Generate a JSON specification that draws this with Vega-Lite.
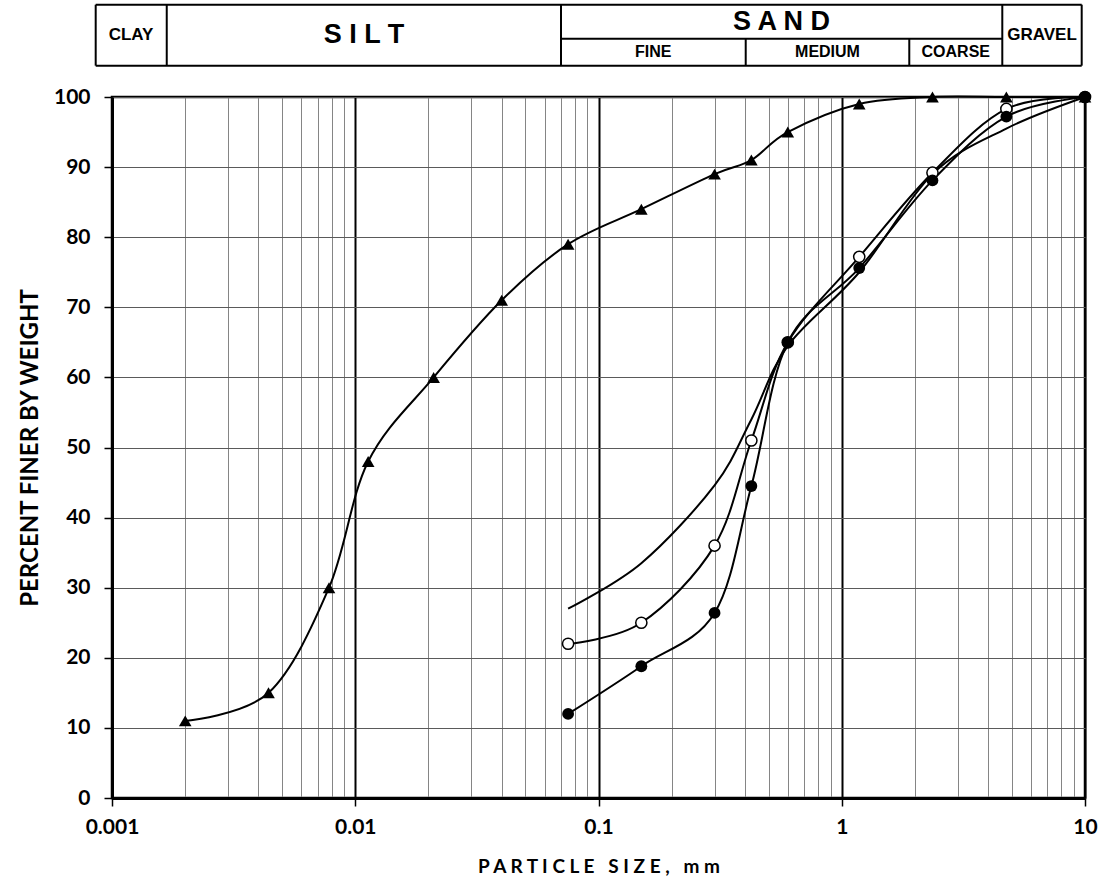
{
  "$schema": "https://vega.github.io/schema/vega-lite/v6.json",
  "width": 973,
  "height": 701,
  "autosize": {"type": "none"},
  "padding": {"left": 112, "top": 97, "right": 19, "bottom": 92},
  "background": "white",
  "config": {
    "view": {"stroke": "black", "strokeWidth": 2.5},
    "font": "Lato"
  },
  "datasets": {
    "curves": [
      {"sample": "A", "size": 0.002, "pct": 11},
      {"sample": "A", "size": 0.0044, "pct": 15},
      {"sample": "A", "size": 0.0078, "pct": 30},
      {"sample": "A", "size": 0.0113, "pct": 48},
      {"sample": "A", "size": 0.021, "pct": 60},
      {"sample": "A", "size": 0.04, "pct": 71},
      {"sample": "A", "size": 0.075, "pct": 79},
      {"sample": "A", "size": 0.15, "pct": 84},
      {"sample": "A", "size": 0.3, "pct": 89},
      {"sample": "A", "size": 0.425, "pct": 91},
      {"sample": "A", "size": 0.6, "pct": 95},
      {"sample": "A", "size": 1.18, "pct": 99},
      {"sample": "A", "size": 2.36, "pct": 100},
      {"sample": "A", "size": 4.75, "pct": 100},
      {"sample": "A", "size": 10, "pct": 100},
      {"sample": "B", "size": 0.075, "pct": 22},
      {"sample": "B", "size": 0.15, "pct": 25},
      {"sample": "B", "size": 0.3, "pct": 36},
      {"sample": "B", "size": 0.425, "pct": 51},
      {"sample": "B", "size": 0.6, "pct": 65},
      {"sample": "B", "size": 1.18, "pct": 77.2},
      {"sample": "B", "size": 2.36, "pct": 89.2},
      {"sample": "B", "size": 4.75, "pct": 98.3},
      {"sample": "B", "size": 10, "pct": 100},
      {"sample": "C", "size": 0.075, "pct": 12},
      {"sample": "C", "size": 0.15, "pct": 18.8},
      {"sample": "C", "size": 0.3, "pct": 26.4},
      {"sample": "C", "size": 0.425, "pct": 44.5},
      {"sample": "C", "size": 0.6, "pct": 65},
      {"sample": "C", "size": 1.18, "pct": 75.6},
      {"sample": "C", "size": 2.36, "pct": 88.1},
      {"sample": "C", "size": 4.75, "pct": 97.2},
      {"sample": "C", "size": 10, "pct": 100},
      {"sample": "D", "size": 0.075, "pct": 27},
      {"sample": "D", "size": 0.15, "pct": 33.5},
      {"sample": "D", "size": 0.3, "pct": 44.6},
      {"sample": "D", "size": 0.425, "pct": 54},
      {"sample": "D", "size": 0.6, "pct": 64.5},
      {"sample": "D", "size": 1.18, "pct": 75},
      {"sample": "D", "size": 2.36, "pct": 89},
      {"sample": "D", "size": 4.75, "pct": 95.5},
      {"sample": "D", "size": 10, "pct": 100}
    ],
    "table": [
      {"size": 0.000857, "size2": 9.692, "pct": 113.17, "pct2": 113.17},
      {"size": 0.000857, "size2": 9.692, "pct": 104.47, "pct2": 104.47},
      {"size": 0.07013, "size2": 4.571, "pct": 108.32, "pct2": 108.32},
      {"size": 0.000857, "size2": 0.000857, "pct": 104.47, "pct2": 113.17},
      {"size": 0.001679, "size2": 0.001679, "pct": 104.47, "pct2": 113.17},
      {"size": 0.07013, "size2": 0.07013, "pct": 104.47, "pct2": 113.17},
      {"size": 4.571, "size2": 4.571, "pct": 104.47, "pct2": 113.17},
      {"size": 9.692, "size2": 9.692, "pct": 104.47, "pct2": 113.17},
      {"size": 0.4029, "size2": 0.4029, "pct": 104.47, "pct2": 108.32},
      {"size": 1.895, "size2": 1.895, "pct": 104.47, "pct2": 108.32}
    ],
    "names": [
      {"role": "main", "size": 0.01086, "pct": 108.82, "label": "S I L T"},
      {"role": "main", "size": 0.5653, "pct": 110.74, "label": "S A N D"},
      {"role": "side", "size": 0.001197, "pct": 108.82, "label": "CLAY"},
      {"role": "side", "size": 6.656, "pct": 108.82, "label": "GRAVEL"},
      {"role": "sub", "size": 0.168, "pct": 106.39, "label": "FINE"},
      {"role": "sub", "size": 0.8737, "pct": 106.39, "label": "MEDIUM"},
      {"role": "sub", "size": 2.943, "pct": 106.39, "label": "COARSE"}
    ]
  },
  "layer": [
    {
      "data": {"name": "curves"},
      "mark": {"type": "line", "interpolate": "cardinal", "color": "black", "strokeWidth": 2},
      "encoding": {
        "x": {
          "field": "size",
          "type": "quantitative",
          "scale": {"type": "log", "domain": [0.001, 10]},
          "axis": {
            "title": "P A R T I C L E\u00a0\u00a0 S I Z E ,\u00a0\u00a0 m m",
            "titleFont": "Lato",
            "titleFontSize": 19,
            "titleFontWeight": "bold",
            "titleColor": "black",
            "titlePadding": 20,
            "values": [0.001, 0.002, 0.003, 0.004, 0.005, 0.006, 0.007, 0.008, 0.009,
                       0.01, 0.02, 0.03, 0.04, 0.05, 0.06, 0.07, 0.08, 0.09,
                       0.1, 0.2, 0.3, 0.4, 0.5, 0.6, 0.7, 0.8, 0.9,
                       1, 2, 3, 4, 5, 6, 7, 8, 9, 10],
            "grid": true,
            "gridColor": {"condition": {"test": "abs(log(datum.value)/LN10 - round(log(datum.value)/LN10)) < 0.001", "value": "black"}, "value": "#858585"},
            "gridWidth": {"condition": {"test": "abs(log(datum.value)/LN10 - round(log(datum.value)/LN10)) < 0.001", "value": 2}, "value": 1},
            "tickColor": {"condition": {"test": "abs(log(datum.value)/LN10 - round(log(datum.value)/LN10)) < 0.001", "value": "black"}, "value": "transparent"},
            "tickSize": 8,
            "tickWidth": 1.5,
            "labelExpr": "abs(log(datum.value)/LN10 - round(log(datum.value)/LN10)) < 0.001 ? format(datum.value, '~g') : ''",
            "labelFont": "Lato",
            "labelFontSize": 21,
            "labelFontWeight": "bold",
            "labelColor": "black",
            "labelPadding": 10,
            "labelFlush": false,
            "labelOverlap": false,
            "domainColor": "black",
            "domainWidth": 3
          }
        },
        "y": {
          "field": "pct",
          "type": "quantitative",
          "scale": {"domain": [0, 100]},
          "axis": {
            "title": "PERCENT FINER BY WEIGHT",
            "titleFont": "Lato",
            "titleFontSize": 24,
            "titleFontWeight": "bold",
            "titleColor": "black",
            "titlePadding": 11,
            "values": [0, 10, 20, 30, 40, 50, 60, 70, 80, 90, 100],
            "grid": true,
            "gridColor": "#5a5a5a",
            "gridWidth": 1,
            "tickColor": "black",
            "tickSize": 8,
            "tickWidth": 1.5,
            "labelFont": "Lato",
            "labelFontSize": 21,
            "labelFontWeight": "bold",
            "labelColor": "black",
            "labelPadding": 14,
            "labelFlush": false,
            "domainColor": "black",
            "domainWidth": 3
          }
        },
        "detail": {"field": "sample"}
      }
    },
    {
      "data": {"name": "curves"},
      "transform": [{"filter": "datum.sample === 'A'"}],
      "mark": {"type": "point", "shape": "triangle-up", "filled": true, "color": "black", "size": 160, "opacity": 1},
      "encoding": {
        "x": {"field": "size", "type": "quantitative", "scale": {"type": "log", "domain": [0.001, 10]}},
        "y": {"field": "pct", "type": "quantitative", "scale": {"domain": [0, 100]}}
      }
    },
    {
      "data": {"name": "curves"},
      "transform": [{"filter": "datum.sample === 'B'"}],
      "mark": {"type": "point", "shape": "circle", "filled": true, "fill": "white", "stroke": "black", "strokeWidth": 1.5, "size": 125, "opacity": 1},
      "encoding": {
        "x": {"field": "size", "type": "quantitative", "scale": {"type": "log", "domain": [0.001, 10]}},
        "y": {"field": "pct", "type": "quantitative", "scale": {"domain": [0, 100]}}
      }
    },
    {
      "data": {"name": "curves"},
      "transform": [{"filter": "datum.sample === 'C'"}],
      "mark": {"type": "point", "shape": "circle", "filled": true, "color": "black", "size": 140, "opacity": 1},
      "encoding": {
        "x": {"field": "size", "type": "quantitative", "scale": {"type": "log", "domain": [0.001, 10]}},
        "y": {"field": "pct", "type": "quantitative", "scale": {"domain": [0, 100]}}
      }
    },
    {
      "data": {"name": "table"},
      "mark": {"type": "rule", "color": "black", "strokeWidth": 2},
      "encoding": {
        "x": {"field": "size", "type": "quantitative", "scale": {"type": "log", "domain": [0.001, 10]}},
        "x2": {"field": "size2"},
        "y": {"field": "pct", "type": "quantitative", "scale": {"domain": [0, 100]}},
        "y2": {"field": "pct2"}
      }
    },
    {
      "data": {"name": "names"},
      "transform": [{"filter": "datum.role === 'main'"}],
      "mark": {"type": "text", "font": "Liberation Sans", "fontWeight": "bold", "fontSize": 27, "color": "black", "align": "center", "baseline": "middle"},
      "encoding": {
        "x": {"field": "size", "type": "quantitative", "scale": {"type": "log", "domain": [0.001, 10]}},
        "y": {"field": "pct", "type": "quantitative", "scale": {"domain": [0, 100]}},
        "text": {"field": "label"}
      }
    },
    {
      "data": {"name": "names"},
      "transform": [{"filter": "datum.role === 'side'"}],
      "mark": {"type": "text", "font": "Liberation Sans", "fontWeight": "bold", "fontSize": 17, "color": "black", "align": "center", "baseline": "middle"},
      "encoding": {
        "x": {"field": "size", "type": "quantitative", "scale": {"type": "log", "domain": [0.001, 10]}},
        "y": {"field": "pct", "type": "quantitative", "scale": {"domain": [0, 100]}},
        "text": {"field": "label"}
      }
    },
    {
      "data": {"name": "names"},
      "transform": [{"filter": "datum.role === 'sub'"}],
      "mark": {"type": "text", "font": "Liberation Sans", "fontWeight": "bold", "fontSize": 16, "color": "black", "align": "center", "baseline": "middle"},
      "encoding": {
        "x": {"field": "size", "type": "quantitative", "scale": {"type": "log", "domain": [0.001, 10]}},
        "y": {"field": "pct", "type": "quantitative", "scale": {"domain": [0, 100]}},
        "text": {"field": "label"}
      }
    }
  ]
}
